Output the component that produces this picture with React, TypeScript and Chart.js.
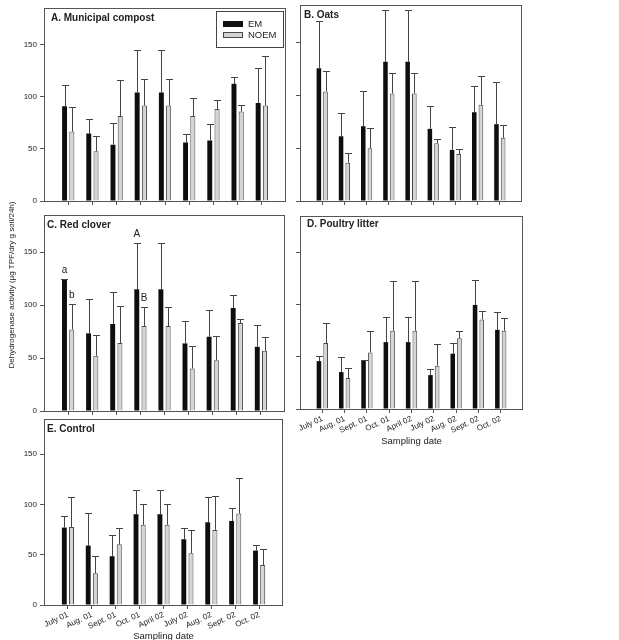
import React, { useEffect, useRef } from 'react';
import { Chart, registerables } from 'chart.js';

Chart.register(...registerables);

// ---------- data ----------
const categories = ['July 01', 'Aug. 01', 'Sept. 01', 'Oct. 01', 'April 02', 'July 02', 'Aug. 02', 'Sept. 02', 'Oct. 02'];
const seriesNames = ['EM', 'NOEM'];
const yTicks = [0, 50, 100, 150];
const yMax = 185;
const xTitle = 'Sampling date';
const yTitle = 'Dehydrogenase activity (\u00b5g TPF/dry g soil/24h)';

// A. Municipal compost
const compostEM = [90.8, 64.6, 53.9, 104, 104, 56.1, 58, 112.2, 93.9];
const compostEMErr = [20.2, 14.2, 20.5, 40.3, 40.3, 7.6, 15.7, 6.3, 33.1];
const compostNOEM = [66.5, 47.6, 81.3, 91.4, 91.4, 81.3, 88.2, 85.7, 91.4];
const compostNOEMErr = [23.5, 14.8, 35, 25.8, 25.8, 17.3, 8.8, 6.6, 47];

// B. Oats
const oatsEM = [125.4, 61.1, 70.6, 131.4, 131.4, 68.1, 48.2, 83.8, 72.5];
const oatsEMErr = [44.8, 21.8, 32.8, 48.6, 48.6, 21.1, 21.8, 25.2, 40];
const oatsNOEM = [103.4, 36.2, 49.8, 101.5, 101.5, 54.5, 44.4, 90.8, 59.6];
const oatsNOEMErr = [19.5, 8.8, 19.5, 19.2, 19.2, 4.1, 5.1, 26.8, 11.9];

// C. Red clover
const cloverEM = [123.8, 73.3, 82.1, 114.9, 114.9, 63.8, 70.1, 97.3, 60.6];
const cloverEMErr = [0.8, 32.2, 30.6, 43.6, 43.6, 20.8, 24.9, 12, 20.9];
const cloverNOEM = [77, 52.1, 64.1, 80.2, 80.2, 40.1, 48, 83, 56.8];
const cloverNOEMErr = [23.7, 19.3, 35.4, 18, 18, 21.2, 22.7, 3.5, 13];
const cloverEMMarks = ['a', '', '', 'A', '', '', '', '', ''];
const cloverNOEMMarks = ['b', '', '', 'B', '', '', '', '', ''];

// D. Poultry litter
const poultryEM = [45.9, 35.4, 46.6, 64.1, 64.1, 32.5, 53, 99.8, 75.9];
const poultryEMErr = [4.5, 14.7, 0.8, 23.9, 23.9, 6.1, 9.8, 24.3, 16.9];
const poultryNOEM = [63.2, 29.7, 54.2, 75, 75, 41.5, 67.9, 85.8, 75];
const poultryNOEMErr = [19.7, 9.5, 20.4, 48.1, 48.1, 20.7, 6.4, 8, 12.1];

// E. Control
const controlEM = [77, 59.1, 48.5, 90.3, 90.3, 65.4, 82.3, 83.6, 54.1];
const controlEMErr = [11.3, 32.2, 20.9, 24.2, 24.2, 11.6, 24.9, 12.7, 5.6];
const controlNOEM = [77.7, 31.5, 60.4, 79.7, 79.7, 51.4, 74.7, 90.9, 39.8];
const controlNOEMErr = [30.2, 17, 16.3, 20.9, 20.9, 23.6, 33.5, 35.2, 15.6];

// ---------- style ----------
const W = 619;
const H = 680;
const FONT = "'Liberation Sans', Arial, Helvetica, sans-serif";
const TEXT = '#222222';
const FRAME = '#555555';
const EM_COLOR = '#0e0e0e';
const NOEM_FILL = '#d5d5d5';
const NOEM_BORDER = '#4a4a4a';
const ERR_COLOR = '#444444';

type PanelSpec = {
  title: string;
  em: number[];
  emErr: number[];
  noem: number[];
  noemErr: number[];
  frame: [number, number, number, number];
  titleOffset: [number, number];
  yLabels: boolean;
  xLabels: boolean;
  xAxisHeight: number;
  legend?: boolean;
  marks?: [string[], string[]];
  showYTitle?: boolean;
};

const panels: PanelSpec[] = [
  { title: 'A. Municipal compost', em: compostEM, emErr: compostEMErr, noem: compostNOEM, noemErr: compostNOEMErr,
    frame: [44, 5, 286, 201], titleOffset: [7, 10], yLabels: true, xLabels: false, xAxisHeight: 6, legend: true },
  { title: 'B. Oats', em: oatsEM, emErr: oatsEMErr, noem: oatsNOEM, noemErr: oatsNOEMErr,
    frame: [300, 5, 522, 201], titleOffset: [4, 10], yLabels: false, xLabels: false, xAxisHeight: 6 },
  { title: 'C. Red clover', em: cloverEM, emErr: cloverEMErr, noem: cloverNOEM, noemErr: cloverNOEMErr,
    frame: [44, 215, 285, 411], titleOffset: [3, 10], yLabels: true, xLabels: false, xAxisHeight: 6,
    marks: [cloverEMMarks, cloverNOEMMarks], showYTitle: true },
  { title: 'D. Poultry litter', em: poultryEM, emErr: poultryEMErr, noem: poultryNOEM, noemErr: poultryNOEMErr,
    frame: [300, 216, 523, 409], titleOffset: [7, 8], yLabels: false, xLabels: true, xAxisHeight: 37.7 },
  { title: 'E. Control', em: controlEM, emErr: controlEMErr, noem: controlNOEM, noemErr: controlNOEMErr,
    frame: [44, 419, 283, 605], titleOffset: [3, 10], yLabels: true, xLabels: true, xAxisHeight: 36.7 },
];

const paddedLabels = ['', ...categories, ''];
const pad = (arr: (number | string)[]) => [null, ...arr, null];

function Panel({ spec }: { spec: PanelSpec }) {
  const ref = useRef<HTMLCanvasElement>(null);
  useEffect(() => {
    const [L, T, R, B] = spec.frame;
    const wy = spec.yLabels ? 44 : 10;
    const hx = spec.xAxisHeight;
    const errs = [pad(spec.emErr), pad(spec.noemErr)] as (number | null)[][];
    const marks = spec.marks ? [pad(spec.marks[0]), pad(spec.marks[1])] as (string | null)[][] : null;

    const deco = {
      id: 'deco',
      afterDatasetsDraw(chart: any) {
        const { ctx } = chart;
        const ys = chart.scales.y;
        ctx.save();
        ctx.strokeStyle = ERR_COLOR;
        ctx.lineWidth = 1;
        chart.data.datasets.forEach((ds: any, di: number) => {
          const meta = chart.getDatasetMeta(di);
          meta.data.forEach((bar: any, j: number) => {
            const v = ds.data[j];
            const e = errs[di][j];
            if (v == null || e == null) return;
            const x = Math.round(bar.x) + 0.5;
            const yTop = Math.round(ys.getPixelForValue(v + e)) + 0.5;
            const yBar = ys.getPixelForValue(v);
            ctx.beginPath();
            ctx.moveTo(x, yBar);
            ctx.lineTo(x, yTop);
            ctx.moveTo(x - 3.5, yTop);
            ctx.lineTo(x + 3.5, yTop);
            ctx.stroke();
            if (marks && marks[di][j]) {
              ctx.fillStyle = TEXT;
              ctx.font = `10px ${FONT}`;
              ctx.textAlign = 'center';
              ctx.textBaseline = 'middle';
              ctx.fillText(marks[di][j], bar.x, yTop - 9);
            }
          });
        });
        ctx.restore();
      },
      afterDraw(chart: any) {
        const { ctx, chartArea: ca } = chart;
        ctx.save();
        ctx.strokeStyle = FRAME;
        ctx.lineWidth = 1;
        ctx.strokeRect(Math.round(ca.left) + 0.5, Math.round(ca.top) + 0.5,
          Math.round(ca.right - ca.left) - 1, Math.round(ca.bottom - ca.top));
        // panel title
        ctx.fillStyle = TEXT;
        ctx.font = `bold 10px ${FONT}`;
        ctx.textAlign = 'left';
        ctx.textBaseline = 'middle';
        ctx.fillText(spec.title, ca.left + spec.titleOffset[0], ca.top + spec.titleOffset[1]);
        if (spec.legend) {
          const bx = Math.round(ca.right) - 70;
          const by = Math.round(ca.top) + 3;
          ctx.strokeStyle = '#444';
          ctx.strokeRect(bx + 0.5, by + 0.5, 67, 36);
          ctx.fillStyle = EM_COLOR;
          ctx.fillRect(bx + 7, by + 10, 20, 6);
          ctx.fillStyle = NOEM_FILL;
          ctx.fillRect(bx + 7, by + 21, 20, 6);
          ctx.strokeStyle = NOEM_BORDER;
          ctx.strokeRect(bx + 7.5, by + 21.5, 19, 5);
          ctx.fillStyle = TEXT;
          ctx.font = `9.5px ${FONT}`;
          ctx.fillText(seriesNames[0], bx + 32, by + 13);
          ctx.fillText(seriesNames[1], bx + 32, by + 24.5);
        }
        if (spec.showYTitle) {
          ctx.save();
          ctx.translate(ca.left - 32, ca.top + 70);
          ctx.rotate(-Math.PI / 2);
          ctx.textAlign = 'center';
          ctx.textBaseline = 'middle';
          ctx.font = `8px ${FONT}`;
          ctx.fillStyle = TEXT;
          ctx.fillText(yTitle, 0, 0);
          ctx.restore();
        }
        ctx.restore();
      },
    };

    const chart = new Chart(ref.current as HTMLCanvasElement, {
      type: 'bar',
      data: {
        labels: paddedLabels,
        datasets: [
          { label: seriesNames[0], data: pad(spec.em) as any, backgroundColor: EM_COLOR, borderColor: EM_COLOR,
            borderWidth: 0, categoryPercentage: 0.6, barPercentage: 0.68 },
          { label: seriesNames[1], data: pad(spec.noem) as any, backgroundColor: NOEM_FILL, borderColor: NOEM_BORDER,
            borderWidth: 1, categoryPercentage: 0.6, barPercentage: 0.7 },
        ],
      },
      options: {
        responsive: false,
        animation: false,
        events: [],
        layout: { padding: { left: L - wy, top: T, right: W - R, bottom: H - B - hx } },
        plugins: { legend: { display: false }, tooltip: { enabled: false }, title: { display: false } },
        scales: {
          x: {
            type: 'category',
            offset: false,
            grid: { offset: false, drawOnChartArea: false, drawTicks: true, tickLength: 4, color: FRAME, tickColor: FRAME },
            border: { display: false },
            ticks: { display: spec.xLabels, autoSkip: false, minRotation: 25, maxRotation: 25, padding: 1,
              color: TEXT, font: { family: FONT, size: 8 } },
            title: { display: spec.xLabels, text: xTitle, color: TEXT, padding: 0,
              font: { family: FONT, size: 9.5, lineHeight: 1.2 } },
            afterBuildTicks: (s: any) => {
              s.ticks = s.ticks.filter((t: any) => t.value > 0 && t.value < paddedLabels.length - 1);
            },
            afterFit: (s: any) => { s.height = hx; },
          },
          y: {
            min: 0,
            max: yMax,
            grid: { drawOnChartArea: false, drawTicks: true, tickLength: 4, color: FRAME, tickColor: FRAME },
            border: { display: false },
            ticks: { display: spec.yLabels, padding: 3, color: TEXT, font: { family: FONT, size: 8 } },
            afterBuildTicks: (s: any) => { s.ticks = yTicks.map((v) => ({ value: v })); },
            afterFit: (s: any) => { s.width = wy; },
          },
        },
      },
      plugins: [deco],
    } as any);
    return () => chart.destroy();
  }, [spec]);
  return <canvas ref={ref} width={W} height={H} style={{ position: 'absolute', left: 0, top: 0, width: W, height: H }} />;
}

export default function App() {
  return (
    <div style={{ position: 'fixed', left: 0, top: 0, width: W, height: 640, overflow: 'hidden', background: '#fff' }}>
      {panels.map((p) => <Panel key={p.title} spec={p} />)}
    </div>
  );
}
